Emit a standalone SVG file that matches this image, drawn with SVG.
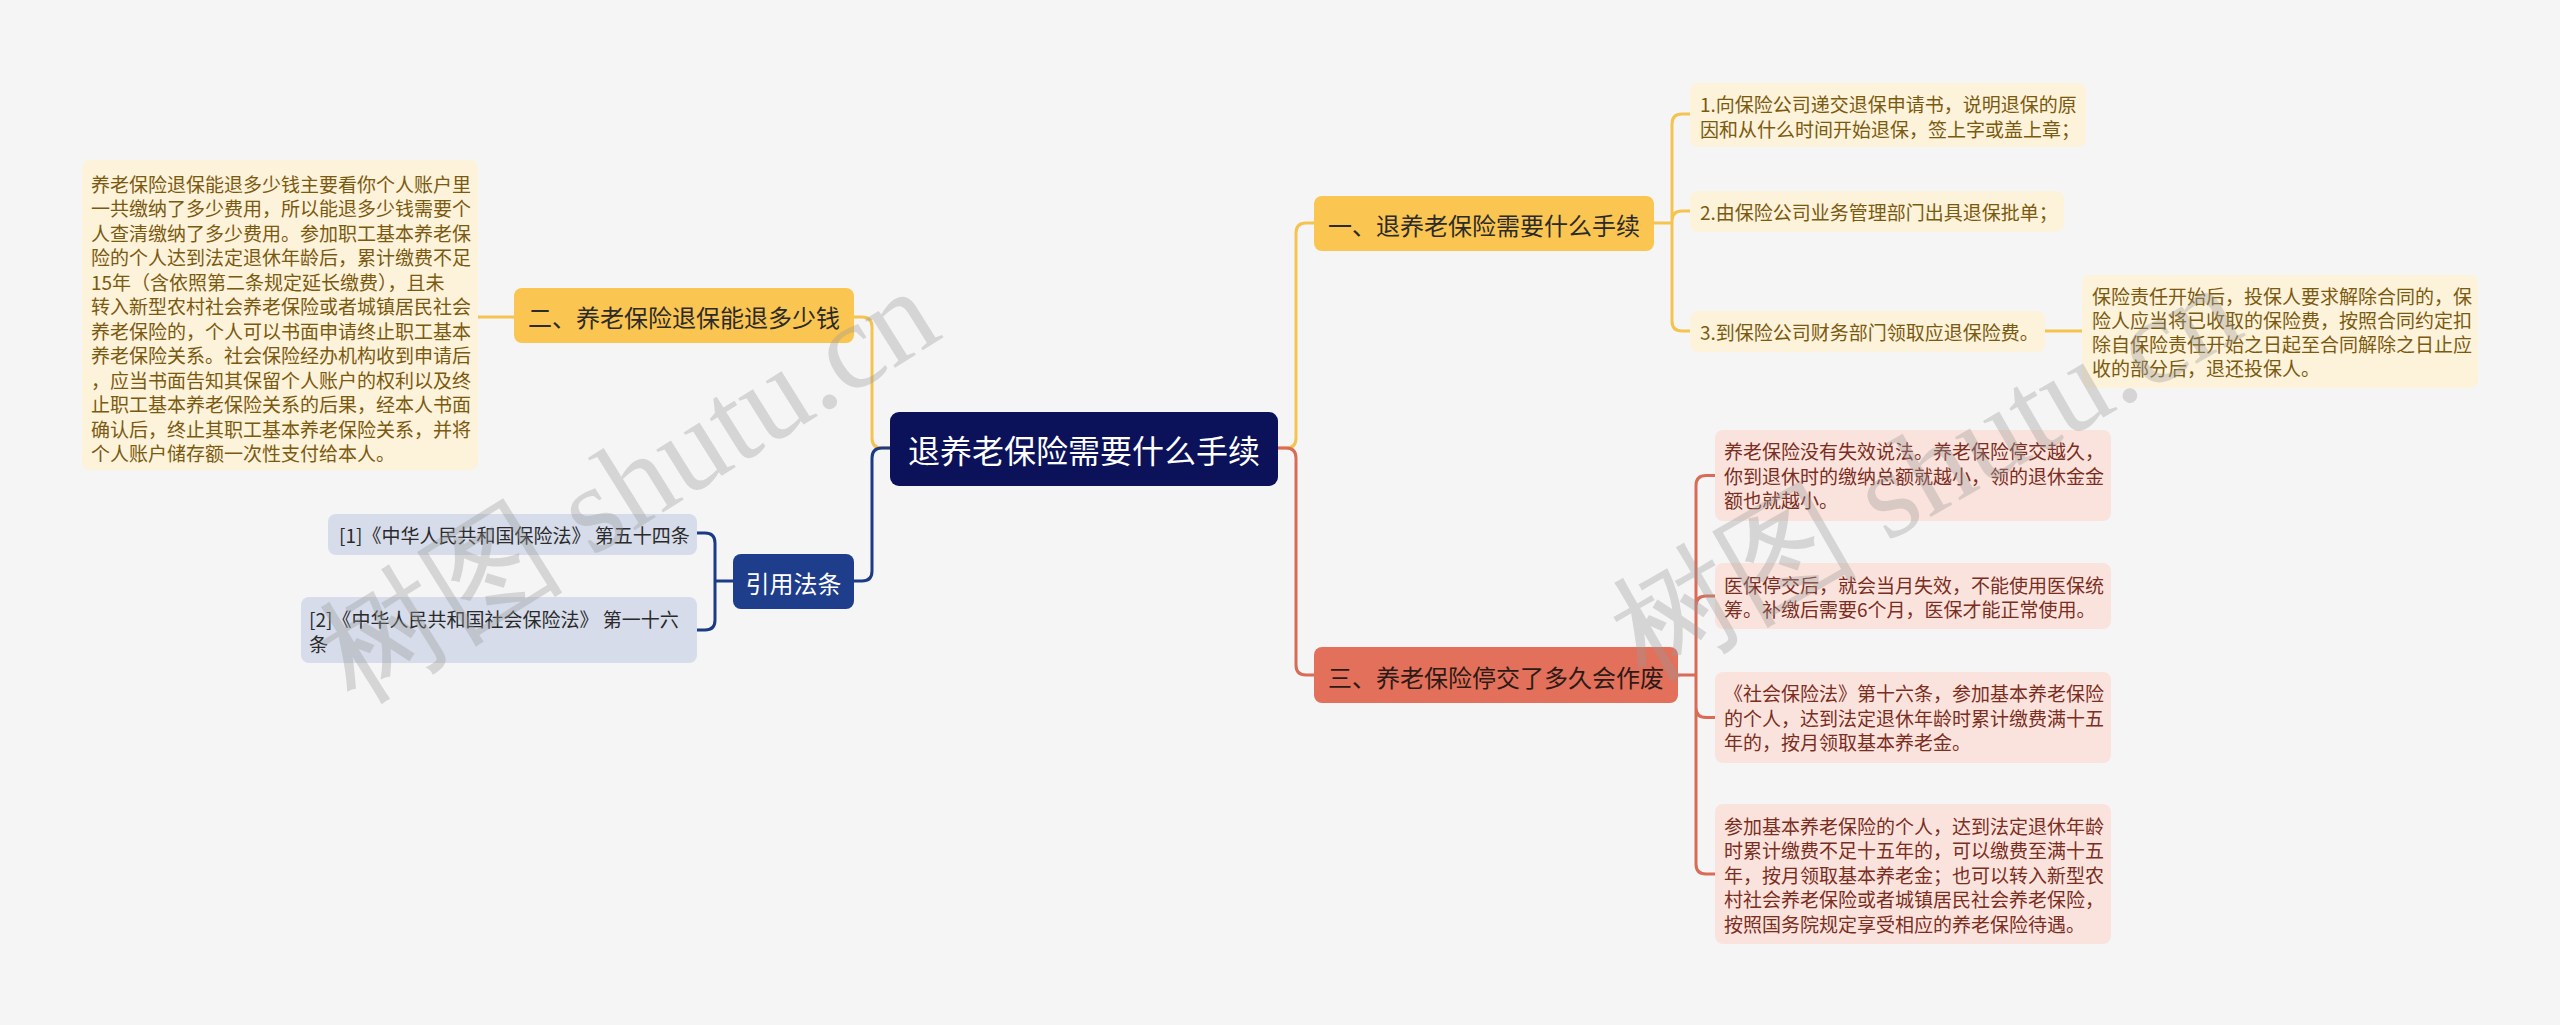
<svg xmlns="http://www.w3.org/2000/svg" width="2560" height="1025" viewBox="0 0 2560 1025">
<style>
text{font-family:"Noto Sans CJK SC","Noto Sans",sans-serif;dominant-baseline:central}
.c{fill:none;stroke-width:3;stroke-linecap:round}
.y{stroke:#f5c350}.b{stroke:#1d3a86}.r{stroke:#d96b57}
.t19{font-size:19px}
.yt{fill:#7a5a10}.rt{fill:#7a2e1f}.bt{fill:#2a2a2a}
.wm{font-family:"Liberation Serif",serif;font-size:124px;fill:#9a9a9a;opacity:0.35;dominant-baseline:auto}
</style>
<rect width="2560" height="1025" fill="#f5f5f5"/>
<g id="connectors">
<path class="c y" d="M1278,448 H1286 Q1296,448 1296,438 V233 Q1296,223 1306,223 H1314"/>
<path class="c r" d="M1278,448 H1286 Q1296,448 1296,458 V665 Q1296,675 1306,675 H1314"/>
<path class="c y" d="M890,448 H882 Q872,448 872,438 V327 Q872,317 862,317 H854"/>
<path class="c b" d="M890,448 H882 Q872,448 872,458 V571 Q872,581 862,581 H854"/>
<path class="c y" d="M514,317 H478"/>
<path class="c b" d="M733,581 H715 M715,581 V543 Q715,533 705,533 H697 M715,581 V620 Q715,630 705,630 H697"/>
<path class="c y" d="M1654,223 H1672 M1672,223 V124 Q1672,114 1682,114 H1690 M1672,221 Q1672,211 1682,211 H1690 M1672,223 V321 Q1672,331 1682,331 H1690"/>
<path class="c y" d="M2045,331 H2082"/>
<path class="c r" d="M1678,675 H1696 M1696,675 V485.5 Q1696,475.5 1706,475.5 H1715 M1696,606 Q1696,596 1706,596 H1715 M1696,707.5 Q1696,717.5 1706,717.5 H1715 M1696,675 V864 Q1696,874 1706,874 H1715"/>
</g>
<g id="center">
<rect x="890" y="412" width="388" height="74" rx="9" fill="#0b1259"/>
<text x="1084" y="449" font-size="32" fill="#fff" text-anchor="middle">退养老保险需要什么手续</text>
</g>
<g id="branch1">
<rect x="1314" y="196" width="340" height="55" rx="8" fill="#fac550"/>
<text x="1484" y="224" font-size="24" fill="#2b2b2b" text-anchor="middle">一、退养老保险需要什么手续</text>
</g>
<g id="b1c1">
<rect x="1690" y="83" width="396" height="64" rx="8" fill="#fdf2da"/>
<text class="t19 yt" x="1700" y="103">1.向保险公司递交退保申请书，说明退保的原</text>
<text class="t19 yt" x="1700" y="128">因和从什么时间开始退保，签上字或盖上章；</text>
</g>
<g id="b1c2">
<rect x="1690" y="191" width="374" height="41" rx="8" fill="#fdf2da"/>
<text class="t19 yt" x="1700" y="211">2.由保险公司业务管理部门出具退保批单；</text>
</g>
<g id="b1c3">
<rect x="1690" y="311" width="355" height="41" rx="8" fill="#fdf2da"/>
<text class="t19 yt" x="1700" y="331">3.到保险公司财务部门领取应退保险费。</text>
</g>
<g id="b1c3a">
<rect x="2082" y="275" width="396" height="113" rx="8" fill="#fdf2da"/>
<text class="t19 yt" x="2092" y="295">保险责任开始后，投保人要求解除合同的，保</text>
<text class="t19 yt" x="2092" y="319">险人应当将已收取的保险费，按照合同约定扣</text>
<text class="t19 yt" x="2092" y="343">除自保险责任开始之日起至合同解除之日止应</text>
<text class="t19 yt" x="2092" y="367">收的部分后，退还投保人。</text>
</g>
<g id="branch2">
<rect x="514" y="288" width="340" height="55" rx="8" fill="#fac550"/>
<text x="684" y="316" font-size="24" fill="#2b2b2b" text-anchor="middle">二、养老保险退保能退多少钱</text>
</g>
<g id="b2c1">
<rect x="82" y="160" width="396" height="310" rx="8" fill="#fdf2da"/>
<text class="t19 yt" x="91" y="183">养老保险退保能退多少钱主要看你个人账户里</text>
<text class="t19 yt" x="91" y="207.5">一共缴纳了多少费用，所以能退多少钱需要个</text>
<text class="t19 yt" x="91" y="232">人查清缴纳了多少费用。参加职工基本养老保</text>
<text class="t19 yt" x="91" y="256.5">险的个人达到法定退休年龄后，累计缴费不足</text>
<text class="t19 yt" x="91" y="281">15年（含依照第二条规定延长缴费），且未</text>
<text class="t19 yt" x="91" y="305.5">转入新型农村社会养老保险或者城镇居民社会</text>
<text class="t19 yt" x="91" y="330">养老保险的，个人可以书面申请终止职工基本</text>
<text class="t19 yt" x="91" y="354.5">养老保险关系。社会保险经办机构收到申请后</text>
<text class="t19 yt" x="91" y="379">，应当书面告知其保留个人账户的权利以及终</text>
<text class="t19 yt" x="91" y="403.5">止职工基本养老保险关系的后果，经本人书面</text>
<text class="t19 yt" x="91" y="428">确认后，终止其职工基本养老保险关系，并将</text>
<text class="t19 yt" x="91" y="452.5">个人账户储存额一次性支付给本人。</text>
</g>
<g id="branch_cite">
<rect x="733" y="554" width="121" height="55" rx="8" fill="#1e3d8b"/>
<text x="793.5" y="582" font-size="24" fill="#fff" text-anchor="middle">引用法条</text>
</g>
<g id="cite1">
<rect x="328" y="514" width="369" height="41" rx="8" fill="#d6dcea"/>
<text class="t19 bt" x="339" y="534">[1]《中华人民共和国保险法》 第五十四条</text>
</g>
<g id="cite2">
<rect x="301" y="597" width="396" height="66" rx="8" fill="#d6dcea"/>
<text class="t19 bt" x="309" y="618">[2]《中华人民共和国社会保险法》 第一十六</text>
<text class="t19 bt" x="309" y="643">条</text>
</g>
<g id="branch3">
<rect x="1314" y="647" width="364" height="56" rx="8" fill="#e2705a"/>
<text x="1496" y="676" font-size="24" fill="#2b1a16" text-anchor="middle">三、养老保险停交了多久会作废</text>
</g>
<g id="b3c1">
<rect x="1715" y="430" width="396" height="91" rx="8" fill="#fbe3dd"/>
<text class="t19 rt" x="1724" y="450.5">养老保险没有失效说法。养老保险停交越久，</text>
<text class="t19 rt" x="1724" y="475">你到退休时的缴纳总额就越小，领的退休金金</text>
<text class="t19 rt" x="1724" y="499.5">额也就越小。</text>
</g>
<g id="b3c2">
<rect x="1715" y="563" width="396" height="66" rx="8" fill="#fbe3dd"/>
<text class="t19 rt" x="1724" y="584">医保停交后，就会当月失效，不能使用医保统</text>
<text class="t19 rt" x="1724" y="608.5">筹。补缴后需要6个月，医保才能正常使用。</text>
</g>
<g id="b3c3">
<rect x="1715" y="672" width="396" height="91" rx="8" fill="#fbe3dd"/>
<text class="t19 rt" x="1724" y="692.5">《社会保险法》第十六条，参加基本养老保险</text>
<text class="t19 rt" x="1724" y="717">的个人，达到法定退休年龄时累计缴费满十五</text>
<text class="t19 rt" x="1724" y="741.5">年的，按月领取基本养老金。</text>
</g>
<g id="b3c4">
<rect x="1715" y="804" width="396" height="140" rx="8" fill="#fbe3dd"/>
<text class="t19 rt" x="1724" y="825">参加基本养老保险的个人，达到法定退休年龄</text>
<text class="t19 rt" x="1724" y="849.5">时累计缴费不足十五年的，可以缴费至满十五</text>
<text class="t19 rt" x="1724" y="874">年，按月领取基本养老金；也可以转入新型农</text>
<text class="t19 rt" x="1724" y="898.5">村社会养老保险或者城镇居民社会养老保险，</text>
<text class="t19 rt" x="1724" y="923">按照国务院规定享受相应的养老保险待遇。</text>
</g>
<g id="watermark">
<text class="wm" transform="translate(355,705) rotate(-32)">树图 shutu.cn</text>
<text class="wm" transform="translate(1645,682) rotate(-30)">树图 shutu.cn</text>
</g>
</svg>
